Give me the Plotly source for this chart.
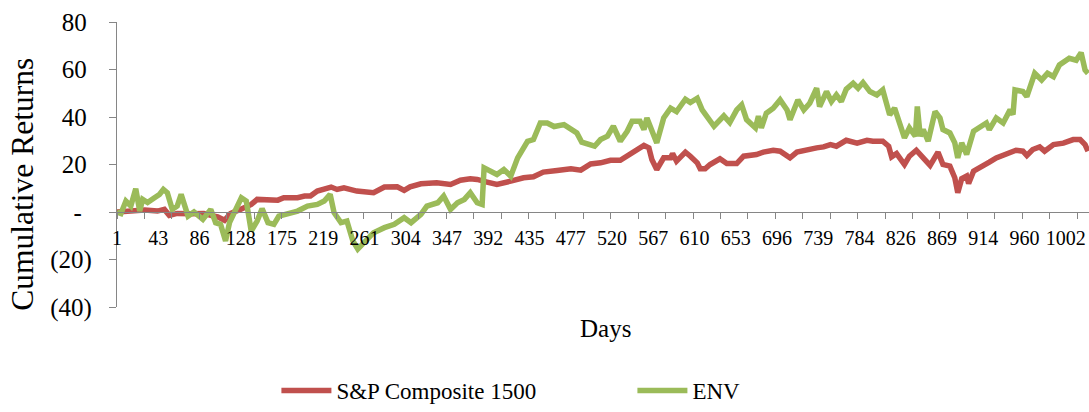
import plotly.graph_objects as go

# ---- data (trading-day index, cumulative return %) ----
sp_x = [0, 14, 28, 41, 48, 53, 61, 75, 88, 95, 102, 109, 115, 125, 136, 142, 156, 163, 169, 183,
        190, 196, 203, 217, 223, 230, 243, 260, 271, 284, 291, 297, 308, 324, 338, 348, 358, 365,
        375, 385, 399, 412, 422, 432, 446, 460, 470, 480, 490, 500, 510, 517, 524, 534, 539, 542,
        547, 554, 561, 563, 567, 576, 581, 588, 591, 596, 601, 611, 618, 628, 635, 648, 655, 665,
        672, 682, 689, 699, 709, 716, 723, 729, 739, 750, 760, 766, 776, 782, 785, 790, 798, 803,
        810, 817, 824, 832, 837, 844, 849, 852, 856, 861, 863, 868, 878, 884, 891, 901, 911, 918,
        922, 928, 935, 940, 949, 959, 969, 976, 981, 984]
sp_y = [0.0, 0.4, 0.8, 0.4, 1.1, -1.4, -0.6, -0.7, -0.6, -1.4, -2.0, -3.5, -0.6, 1.1, 3.2, 5.3,
        5.3, 5.0, 6.0, 6.0, 6.7, 6.7, 8.8, 10.5, 9.5, 10.2, 8.8, 8.1, 10.5, 10.6, 9.1, 10.6, 11.9,
        12.3, 11.6, 13.4, 14.0, 13.7, 12.6, 11.6, 13.0, 14.4, 14.8, 16.8, 17.5, 18.2, 17.6, 20.2,
        20.7, 21.8, 21.8, 23.5, 24.9, 28.0, 27.0, 22.1, 17.9, 22.8, 22.8, 24.6, 21.4, 25.2, 23.5,
        20.7, 18.2, 18.2, 20.0, 22.4, 20.4, 20.4, 23.5, 24.2, 25.2, 26.0, 25.6, 22.8, 25.2, 26.3,
        27.0, 27.4, 28.4, 27.7, 30.2, 29.0, 30.2, 29.8, 29.8, 27.7, 23.2, 24.6, 20.0, 23.5, 26.0,
        22.8, 19.6, 25.2, 20.0, 19.3, 14.4, 8.1, 14.0, 15.1, 12.0, 17.2, 20.0, 21.0, 22.8, 24.2,
        26.0, 25.6, 23.8, 26.3, 27.4, 25.6, 28.4, 29.0, 30.5, 30.5, 28.4, 25.6]

env_x = [0, 4, 9, 14, 19, 23, 26, 31, 38, 43, 47, 51, 56, 61, 65, 72, 78, 87, 95, 100, 105, 110,
         114, 119, 126, 131, 136, 142, 147, 153, 159, 164, 173, 183, 193, 203, 210, 216, 220, 227,
         233, 239, 244, 250, 260, 271, 281, 291, 298, 308, 314, 325, 331, 338, 345, 352, 358, 365,
         370, 372, 379, 385, 392, 399, 406, 416, 422, 429, 436, 443, 453, 460, 466, 471, 480, 484,
         490, 497, 503, 510, 517, 522, 530, 534, 537, 542, 547, 554, 561, 567, 576, 581, 588, 593,
         598, 605, 615, 621, 628, 633, 638, 647, 650, 653, 658, 665, 672, 679, 682, 690, 696, 702,
         709, 712, 719, 724, 729, 734, 739, 746, 751, 756, 763, 770, 776, 783, 788, 792, 798, 803,
         809, 811, 814, 817, 822, 829, 834, 837, 844, 849, 852, 856, 861, 868, 874, 881, 884, 891,
         898, 905, 908, 910, 918, 922, 930, 937, 943, 949, 955, 965, 972, 977, 981, 984]
env_y = [0.0, -0.6, 4.6, 2.5, 9.8, 0.4, 5.3, 4.0, 6.0, 7.4, 9.5, 8.1, 1.1, 2.5, 7.4, -1.7, 0.0,
         -3.1, 1.1, -4.5, -5.2, -12.2, -4.5, 0.4, 6.0, 4.6, -8.0, -3.8, 1.4, -4.5, -5.2, -1.7, -0.6,
         0.4, 2.5, 3.2, 4.6, 7.4, -0.3, -4.5, -3.8, -12.2, -15.6, -12.9, -8.7, -6.6, -5.2, -2.4,
         -4.5, -1.0, 2.5, 3.9, 6.7, 1.1, 3.9, 5.3, 8.1, 3.9, 3.2, 18.6, 17.2, 15.8, 17.9, 15.1,
         22.8, 29.8, 30.5, 37.5, 37.5, 36.0, 36.8, 34.7, 33.3, 29.4, 28.5, 27.7, 30.5, 31.9, 36.1,
         29.8, 34.0, 38.2, 38.2, 34.7, 39.6, 34.7, 29.1, 39.6, 43.7, 42.3, 47.5, 46.1, 47.9, 43.0,
         40.3, 36.1, 40.5, 37.7, 43.0, 45.1, 38.9, 35.4, 40.3, 35.4, 41.6, 43.7, 47.2, 43.0, 38.9,
         47.2, 43.0, 45.8, 52.1, 44.4, 50.7, 46.5, 49.3, 46.5, 51.7, 54.2, 52.1, 54.5, 50.7, 49.3,
         51.4, 40.9, 43.7, 38.2, 31.2, 35.4, 31.9, 44.4, 31.9, 34.7, 29.8, 42.3, 39.6, 34.7, 33.3,
         29.1, 22.8, 29.1, 24.2, 34.0, 35.4, 37.5, 34.7, 39.6, 37.5, 43.0, 41.0, 51.4, 50.7, 48.6,
         58.4, 55.6, 58.4, 57.0, 61.9, 64.7, 63.9, 67.1, 59.8, 58.4]

day_labels = ["1", "43", "86", "128", "175", "219", "261", "304", "347", "392", "435", "477",
              "520", "567", "610", "653", "696", "739", "784", "826", "869", "914", "960", "1002"]
y_ticks = [-40, -20, 0, 20, 40, 60, 80]
y_ticktext = ["(40)", "(20)", "-\u2009\u2009", "20\u2009", "40\u2009", "60\u2009", "80\u2009"]

LABEL_STEP = 41.8
TICK_STEP = 27.8
FONT = "Liberation Serif"
AXIS_GRAY = "#868686"

fig = go.Figure()
fig.add_trace(go.Scatter(x=sp_x, y=sp_y, mode="lines", name="S&P Composite 1500",
                         line=dict(color="#C0504D", width=5.5)))
fig.add_trace(go.Scatter(x=env_x, y=env_y, mode="lines", name="ENV",
                         line=dict(color="#9BBB59", width=5.5)))

fig.update_layout(
    width=1089, height=412,
    margin=dict(l=117, r=0, t=22, b=104),
    paper_bgcolor="white", plot_bgcolor="white",
    font=dict(family=FONT, color="black"),
    xaxis=dict(
        range=[0, 985], anchor="free", position=1/3,
        showgrid=False, zeroline=False,
        showline=True, linecolor=AXIS_GRAY, linewidth=1.3,
        tickmode="array",
        tickvals=[i * LABEL_STEP for i in range(len(day_labels))],
        ticktext=day_labels, ticks="",
        ticklabelstandoff=8,
        tickfont=dict(size=20, family=FONT, color="black"),
        minor=dict(ticks="outside", ticklen=6, tickcolor=AXIS_GRAY, tickwidth=1.3,
                   tickmode="linear", tick0=0, dtick=TICK_STEP),
    ),
    yaxis=dict(
        range=[-40, 80], showgrid=False, zeroline=False,
        showline=True, linecolor=AXIS_GRAY, linewidth=1.3,
        tickmode="array", tickvals=y_ticks, ticktext=y_ticktext,
        ticks="outside", ticklen=7, tickcolor=AXIS_GRAY, tickwidth=1.3,
        ticklabelstandoff=12,
        tickfont=dict(size=25, family=FONT, color="black"),
    ),
    legend=dict(orientation="h", x=0.164, xanchor="left", y=-0.294, yanchor="middle",
                font=dict(size=23, family=FONT, color="black"),
                itemwidth=50, entrywidth=291, entrywidthmode="pixels",
                bgcolor="rgba(0,0,0,0)"),
    annotations=[
        dict(text="Cumulative Returns", textangle=-90, xref="paper", yref="paper",
             x=-0.0975, y=0.43, xanchor="center", yanchor="middle", showarrow=False,
             font=dict(size=31.5, family=FONT, color="black")),
        dict(text="Days", xref="paper", yref="paper", x=0.503, y=-0.077,
             xanchor="center", yanchor="middle", showarrow=False,
             font=dict(size=25, family=FONT, color="black")),
    ],
)

fig.write_html(
    "out.html",
    config={"displayModeBar": False},
    post_script="document.body.style.margin='0';document.body.style.overflow='hidden';",
)
